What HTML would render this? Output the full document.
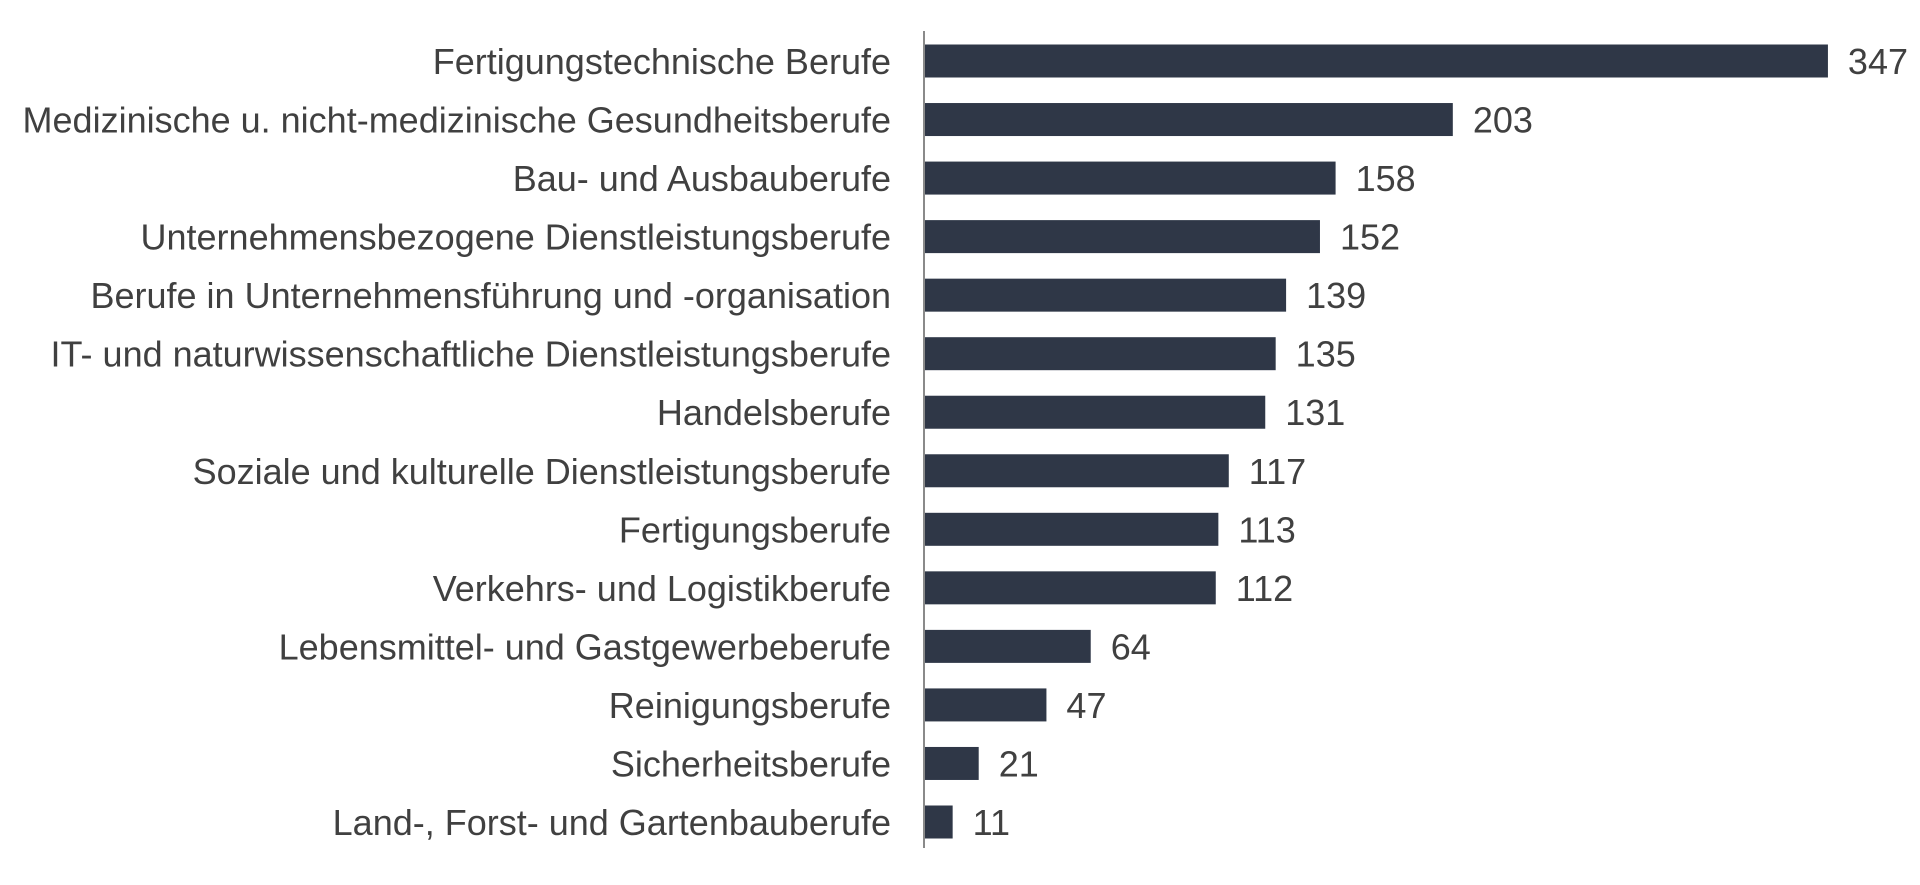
<!DOCTYPE html>
<html><head><style>
body{margin:0;background:#fff;}
svg text{font-family:"Liberation Sans",sans-serif;font-size:36px;fill:#404040;}
</style></head><body>
<svg width="1920" height="880" xmlns="http://www.w3.org/2000/svg">
<g id="g"></g>
<line x1="924" y1="31" x2="924" y2="848" stroke="#8a8a8a" stroke-width="2"/>
</svg>
<script>
const d=[["Fertigungstechnische Berufe",347],["Medizinische u. nicht-medizinische Gesundheitsberufe",203],["Bau- und Ausbauberufe",158],["Unternehmensbezogene Dienstleistungsberufe",152],["Berufe in Unternehmensführung und -organisation",139],["IT- und naturwissenschaftliche Dienstleistungsberufe",135],["Handelsberufe",131],["Soziale und kulturelle Dienstleistungsberufe",117],["Fertigungsberufe",113],["Verkehrs- und Logistikberufe",112],["Lebensmittel- und Gastgewerbeberufe",64],["Reinigungsberufe",47],["Sicherheitsberufe",21],["Land-, Forst- und Gartenbauberufe",11]];
let s="";const sp=(822-61)/13;
d.forEach((r,i)=>{const c=61+i*sp;const w=r[1]*2.605;
s+=`<rect x="924" y="${c-16.5}" width="${w}" height="33" fill="#2f3747"/>`;
s+=`<text x="891" y="${c+13}" text-anchor="end">${r[0]}</text>`;
s+=`<text x="${924+w+20}" y="${c+13}">${r[1]}</text>`;});
document.getElementById("g").innerHTML=s;
</script>
</body></html>
